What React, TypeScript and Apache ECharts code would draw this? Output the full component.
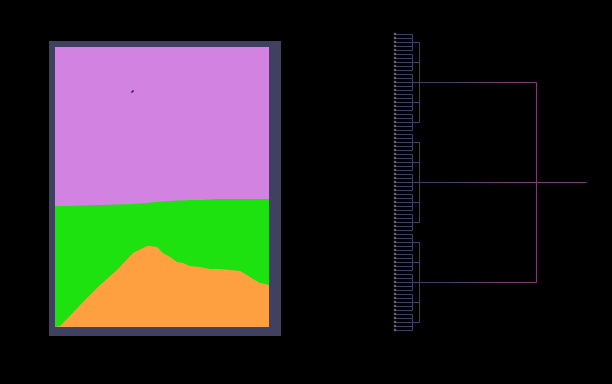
import React, { useEffect, useRef } from "react";
import * as echarts from "echarts";

// ---- Left panel: class map (rows counted from the bottom, per column) ----
const columnOffsets = [0, 5, 12, 28, 45, 62, 78, 92, 95, 102, 108, 115, 122, 128, 135, 145, 155, 165, 175, 185, 192, 198, 205, 210, 214];
const orangeTop = [0, 1, 8, 25, 42, 57, 74, 81, 81, 80, 74, 70, 65, 64, 61, 60, 58, 58, 57, 56, 52, 48, 44, 43, 42];
const greenTop = [121, 121, 121, 121.5, 122, 122.5, 123, 124, 124.5, 125, 125.5, 126, 126.5, 126.5, 127, 127, 127.5, 128, 128, 128, 128, 128, 128, 128, 128];
const totalRows = 280;
const totalColumns = 214;
const strayPoints = [[77, 235], [78, 236]];

// ---- Right panel: dendrogram ----
const clusterCount = 3;
const groupsPerCluster = 5;
const leavesPerGroup = 5;
const linkHeights = [0.85, 1.2, 7.05, 9.55]; // group merge, cluster merge, root merge, root stem top
const distanceMax = 10;

const COLORS = {
  purple: "#d282e1",
  green: "#1ee110",
  orange: "#fea040",
  frame: "#404160",
  slate: "#3f4068",
  pink: "#7c3b74",
  leaf: "#e2a83a",
};

type Seg = [number, number, number, number, number];

function buildDendrogram() {
  const segs: Seg[] = [];
  const leaves: number[][] = [];
  const clusterCenters: number[] = [];
  let leaf = 0;
  for (let c = 0; c < clusterCount; c++) {
    const groupCenters: number[] = [];
    for (let g = 0; g < groupsPerCluster; g++) {
      const first = leaf;
      for (let l = 0; l < leavesPerGroup; l++) {
        leaves.push([0, leaf]);
        segs.push([0, leaf, linkHeights[0], leaf, 0]);
        leaf++;
      }
      const last = leaf - 1;
      segs.push([linkHeights[0], first, linkHeights[0], last, 0]);
      groupCenters.push((first + last) / 2);
    }
    for (const gc of groupCenters) segs.push([linkHeights[0], gc, linkHeights[1], gc, 0]);
    const gFirst = groupCenters[0];
    const gLast = groupCenters[groupCenters.length - 1];
    segs.push([linkHeights[1], gFirst, linkHeights[1], gLast, 0]);
    clusterCenters.push((gFirst + gLast) / 2);
  }
  for (const cc of clusterCenters) segs.push([linkHeights[1], cc, linkHeights[2], cc, 1]);
  const cFirst = clusterCenters[0];
  const cLast = clusterCenters[clusterCenters.length - 1];
  segs.push([linkHeights[2], cFirst, linkHeights[2], cLast, 2]);
  const rootC = (cFirst + cLast) / 2;
  segs.push([linkHeights[2], rootC, linkHeights[3], rootC, 2]);
  return { segs, leaves, leafCount: leaf };
}

export default function App() {
  const ref = useRef<HTMLDivElement>(null);

  useEffect(() => {
    document.body.style.margin = "0";
    document.body.style.background = "#000";
    if (!ref.current) return;
    const chart = echarts.init(ref.current, undefined, { renderer: "svg" });
    const { segs, leaves, leafCount } = buildDendrogram();

    const toPts = (vals: number[]) => columnOffsets.map((x, i) => [x, vals[i]]);
    const fullPts = columnOffsets.map((x) => [x, totalRows]);

    const areaSeries = (name: string, data: number[][], color: string, z: number) => ({
      name,
      type: "line",
      xAxisIndex: 0,
      yAxisIndex: 0,
      data,
      symbol: "none",
      showSymbol: false,
      lineStyle: { width: 0, color },
      areaStyle: { color, opacity: 1 },
      z,
      silent: true,
    });

    const option: any = {
      animation: false,
      backgroundColor: "#000",
      graphic: [
        {
          type: "rect",
          z: -10,
          shape: { x: 49, y: 41, width: 232, height: 295 },
          style: { fill: COLORS.frame },
        },
      ],
      grid: [
        { left: 55, top: 47, width: 214, height: 280, show: false },
        { left: 395, top: 34, width: 200, height: 296, show: false },
      ],
      xAxis: [
        { type: "value", gridIndex: 0, min: 0, max: totalColumns, show: false },
        { type: "value", gridIndex: 1, min: 0, max: distanceMax, show: false },
      ],
      yAxis: [
        { type: "value", gridIndex: 0, min: 0, max: totalRows, show: false },
        { type: "value", gridIndex: 1, min: 0, max: leafCount - 1, inverse: true, show: false },
      ],
      series: [
        areaSeries("class C", fullPts, COLORS.purple, 1),
        areaSeries("class B", toPts(greenTop), COLORS.green, 2),
        areaSeries("class A", toPts(orangeTop), COLORS.orange, 3),
        {
          type: "scatter",
          xAxisIndex: 0,
          yAxisIndex: 0,
          data: strayPoints,
          symbol: "rect",
          symbolSize: 1.5,
          itemStyle: { color: "#000" },
          z: 5,
          silent: true,
        },
        {
          type: "custom",
          xAxisIndex: 1,
          yAxisIndex: 1,
          data: segs,
          encode: { x: [0, 2], y: [1, 3] },
          silent: true,
          z: 3,
          renderItem: (params: any, api: any) => {
            const a = api.coord([api.value(0), api.value(1)]);
            const b = api.coord([api.value(2), api.value(3)]);
            const kind = api.value(4);
            const x1 = Math.floor(a[0]) + 0.5;
            const y1 = Math.floor(a[1]) + 0.5;
            const x2 = Math.floor(b[0]) + 0.5;
            const y2 = Math.floor(b[1]) + 0.5;
            let stroke: any = COLORS.slate;
            if (kind === 2) stroke = COLORS.pink;
            if (kind === 1) {
              stroke = new echarts.graphic.LinearGradient(x1, 0, x2, 0, [
                { offset: 0, color: COLORS.slate },
                { offset: 0.2, color: COLORS.slate },
                { offset: 0.7, color: COLORS.pink },
                { offset: 1, color: COLORS.pink },
              ], true);
            }
            return {
              type: "line",
              shape: { x1, y1, x2, y2 },
              style: { stroke, lineWidth: 1, fill: null },
            };
          },
        },
        {
          type: "scatter",
          xAxisIndex: 1,
          yAxisIndex: 1,
          data: leaves,
          symbol: "rect",
          symbolSize: 2,
          itemStyle: { color: COLORS.leaf, borderColor: COLORS.slate, borderWidth: 0.8 },
          z: 4,
          silent: true,
        },
      ],
    };
    chart.setOption(option);
    return () => chart.dispose();
  }, []);

  return (
    <div
      ref={ref}
      style={{ position: "fixed", left: 0, top: 0, width: 612, height: 384, background: "#000" }}
    />
  );
}
